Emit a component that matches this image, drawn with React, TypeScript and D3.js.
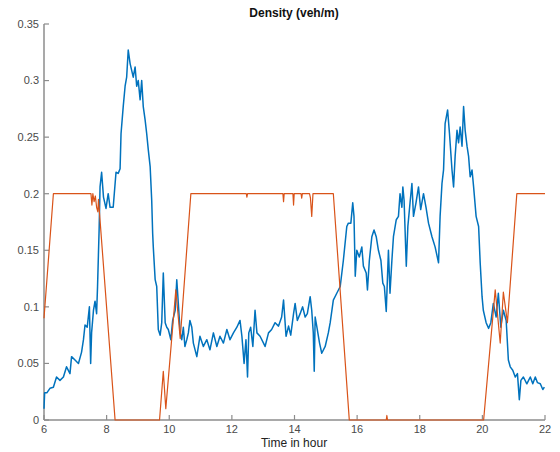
import React from 'react';
import * as d3 from 'd3';

// density readings (hour, veh/m)
const measured: [number, number][] = [
  [6.0, 0.01], [6.02, 0.024], [6.09, 0.024], [6.19, 0.028], [6.3, 0.029], [6.4, 0.038],
  [6.51, 0.035], [6.62, 0.038], [6.72, 0.047], [6.83, 0.041], [6.88, 0.056], [6.99, 0.053],
  [7.1, 0.05], [7.2, 0.06], [7.26, 0.071], [7.31, 0.084], [7.38, 0.082], [7.45, 0.1],
  [7.49, 0.05], [7.52, 0.077], [7.58, 0.097], [7.63, 0.105], [7.68, 0.094], [7.71, 0.118],
  [7.76, 0.168], [7.79, 0.206], [7.84, 0.219], [7.9, 0.197], [7.98, 0.187], [8.05, 0.2],
  [8.11, 0.188], [8.21, 0.188], [8.3, 0.219], [8.37, 0.218], [8.43, 0.222], [8.46, 0.253],
  [8.53, 0.277], [8.59, 0.295], [8.64, 0.303], [8.69, 0.327], [8.75, 0.315], [8.8, 0.309],
  [8.85, 0.303], [8.91, 0.312], [8.96, 0.295], [9.01, 0.3], [9.07, 0.283], [9.12, 0.3],
  [9.17, 0.277], [9.23, 0.265], [9.28, 0.253], [9.33, 0.239], [9.39, 0.224], [9.44, 0.194],
  [9.47, 0.165], [9.49, 0.153], [9.55, 0.124], [9.6, 0.118], [9.65, 0.08], [9.71, 0.075],
  [9.76, 0.086], [9.81, 0.13], [9.87, 0.086], [9.92, 0.082], [9.97, 0.08], [10.05, 0.071],
  [10.11, 0.088], [10.19, 0.097], [10.24, 0.124], [10.29, 0.103], [10.35, 0.077], [10.4, 0.071],
  [10.45, 0.082], [10.5, 0.065], [10.56, 0.071], [10.61, 0.077], [10.66, 0.088], [10.72, 0.082],
  [10.77, 0.068], [10.88, 0.056], [10.98, 0.074], [11.09, 0.065], [11.2, 0.071], [11.3, 0.062],
  [11.41, 0.077], [11.52, 0.065], [11.62, 0.074], [11.73, 0.068], [11.84, 0.08], [11.94, 0.071],
  [12.05, 0.077], [12.16, 0.082], [12.26, 0.088], [12.32, 0.074], [12.39, 0.05], [12.45, 0.071],
  [12.5, 0.038], [12.54, 0.077], [12.6, 0.082], [12.67, 0.065], [12.74, 0.097], [12.8, 0.077],
  [12.9, 0.074], [13.01, 0.068], [13.06, 0.065], [13.17, 0.077], [13.27, 0.08], [13.38, 0.086],
  [13.49, 0.083], [13.59, 0.091], [13.65, 0.106], [13.73, 0.074], [13.81, 0.083], [13.88, 0.075],
  [13.97, 0.094], [14.02, 0.103], [14.09, 0.088], [14.18, 0.094], [14.26, 0.1], [14.34, 0.091],
  [14.41, 0.094], [14.5, 0.109], [14.55, 0.097], [14.6, 0.077], [14.63, 0.043], [14.66, 0.091],
  [14.71, 0.083], [14.8, 0.068], [14.87, 0.059], [14.98, 0.065], [15.08, 0.077], [15.14, 0.086],
  [15.24, 0.106], [15.35, 0.112], [15.46, 0.118], [15.56, 0.141], [15.67, 0.171], [15.72, 0.174],
  [15.8, 0.174], [15.86, 0.192], [15.9, 0.18], [15.94, 0.127], [15.99, 0.15], [16.07, 0.144],
  [16.15, 0.153], [16.2, 0.136], [16.29, 0.13], [16.33, 0.115], [16.39, 0.141], [16.47, 0.162],
  [16.54, 0.168], [16.61, 0.162], [16.68, 0.15], [16.76, 0.141], [16.82, 0.121], [16.87, 0.118],
  [16.93, 0.096], [17.0, 0.15], [17.05, 0.112], [17.11, 0.141], [17.16, 0.162], [17.25, 0.177],
  [17.32, 0.18], [17.37, 0.2], [17.43, 0.188], [17.46, 0.206], [17.5, 0.194], [17.57, 0.136],
  [17.62, 0.171], [17.69, 0.192], [17.75, 0.209], [17.8, 0.18], [17.88, 0.192], [17.96, 0.206],
  [18.03, 0.186], [18.12, 0.2], [18.2, 0.188], [18.28, 0.174], [18.39, 0.162], [18.49, 0.153],
  [18.6, 0.139], [18.65, 0.18], [18.71, 0.209], [18.76, 0.221], [18.81, 0.262], [18.89, 0.274],
  [18.95, 0.253], [19.03, 0.221], [19.08, 0.206], [19.13, 0.233], [19.19, 0.256], [19.24, 0.245],
  [19.29, 0.259], [19.35, 0.242], [19.4, 0.277], [19.45, 0.256], [19.51, 0.242], [19.56, 0.233],
  [19.61, 0.215], [19.67, 0.221], [19.72, 0.206], [19.8, 0.18], [19.88, 0.171], [19.93, 0.139],
  [19.99, 0.109], [20.03, 0.097], [20.12, 0.086], [20.2, 0.081], [20.27, 0.086], [20.35, 0.103],
  [20.44, 0.091], [20.51, 0.112], [20.59, 0.082], [20.67, 0.097], [20.76, 0.088], [20.8, 0.068],
  [20.83, 0.053], [20.89, 0.047], [20.97, 0.044], [21.05, 0.038], [21.12, 0.041], [21.18, 0.018],
  [21.23, 0.035], [21.31, 0.038], [21.42, 0.032], [21.53, 0.038], [21.61, 0.032], [21.69, 0.038],
  [21.76, 0.033], [21.85, 0.032], [21.93, 0.027], [21.98, 0.029],
];

const control: [number, number][] = [
  [6.0, 0.09], [6.3, 0.2], [7.5, 0.2], [7.53, 0.19], [7.56, 0.2], [7.6, 0.193], [7.64, 0.198],
  [7.68, 0.188], [7.72, 0.184], [7.74, 0.195], [8.27, 0], [9.69, 0], [9.81, 0.043], [9.89, 0.01],
  [10.21, 0.115], [10.35, 0.072], [10.69, 0.2], [12.46, 0.2], [12.48, 0.197], [12.5, 0.2],
  [13.63, 0.2], [13.65, 0.193], [13.67, 0.2], [13.95, 0.2], [13.97, 0.19], [13.99, 0.2],
  [14.21, 0.2], [14.23, 0.196], [14.25, 0.2], [14.48, 0.2], [14.51, 0.196], [14.55, 0.18],
  [14.59, 0.2], [15.24, 0.2], [15.75, 0], [16.93, 0], [16.95, 0.004], [16.97, 0], [20.04, 0],
  [20.41, 0.115], [20.57, 0.068], [20.67, 0.113], [20.8, 0.086], [21.1, 0.2], [22.0, 0.2],
];

const hourTicks = [6, 8, 10, 12, 14, 16, 18, 20, 22];
const densityTicks = [0, 0.05, 0.1, 0.15, 0.2, 0.25, 0.3, 0.35];

const W = 560;
const H = 452;
const margin = { top: 24, right: 15, bottom: 32, left: 44 };

export default function App() {
  const x = d3.scaleLinear().domain([6, 22]).range([margin.left, W - margin.right]);
  const y = d3.scaleLinear().domain([0, 0.35]).range([H - margin.bottom, margin.top]);

  const line = d3.line<[number, number]>()
    .x(d => x(d[0]))
    .y(d => y(d[1]));

  const axisColor = '#8c8c8c';
  const textColor = '#4a4a4a';
  const font = 'Liberation Sans, Arial, sans-serif';
  const y0 = y(0);
  const x0 = x(6);

  return (
    <div style={{ position: 'absolute', left: 0, top: 0 }}>
      <svg width={W} height={H} style={{ display: 'block', background: '#fff' }} fontFamily={font}>
        <text x={294} y={17} textAnchor="middle" fontSize={12} fontWeight="bold" fill="#111">
          Density (veh/m)
        </text>

        {/* axes */}
        <line x1={x0} x2={x(22)} y1={y0} y2={y0} stroke={axisColor} strokeWidth={1.5} />
        <line x1={x0} x2={x0} y1={y0} y2={y(0.35)} stroke={axisColor} strokeWidth={1.5} />
        {hourTicks.map(t => (
          <g key={'x' + t}>
            <line x1={x(t)} x2={x(t)} y1={y0} y2={y0 - 5} stroke={axisColor} strokeWidth={1.2} />
            <text x={x(t)} y={433} textAnchor="middle" fontSize={11} fill={textColor}>{t}</text>
          </g>
        ))}
        {densityTicks.map(t => (
          <g key={'y' + t}>
            <line x1={x0} x2={x0 + 5} y1={y(t)} y2={y(t)} stroke={axisColor} strokeWidth={1.2} />
            <text x={x0 - 5} y={y(t)} dy="0.35em" textAnchor="end" fontSize={11} fill={textColor}>
              {d3.format('~g')(t)}
            </text>
          </g>
        ))}
        <text x={294} y={447} textAnchor="middle" fontSize={12} fill="#222">Time in hour</text>

        <path d={line(measured) ?? ''} fill="none" stroke="#0072BD" strokeWidth={1.5} strokeLinejoin="round" />
        <path d={line(control) ?? ''} fill="none" stroke="#D95319" strokeWidth={1.2} strokeLinejoin="round" />
      </svg>
    </div>
  );
}
